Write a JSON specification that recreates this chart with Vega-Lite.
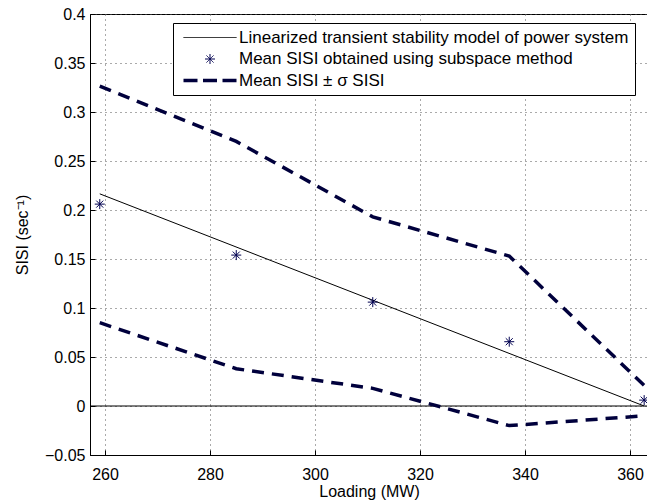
{
  "$schema": "https://vega.github.io/schema/vega-lite/v6.json",
  "width": 558,
  "height": 441,
  "autosize": {"type": "none"},
  "padding": {"left": 90, "top": 14, "right": 0, "bottom": 45},
  "background": "white",
  "config": {
    "view": {"stroke": "black", "strokeWidth": 1},
    "font": "Liberation Sans",
    "axis": {
      "domainColor": "black",
      "domainWidth": 1,
      "tickColor": "black",
      "tickSize": -5,
      "labelFont": "Liberation Sans",
      "labelFontSize": 16,
      "labelColor": "black",
      "titleFont": "Liberation Sans",
      "titleFontSize": 16,
      "titleFontWeight": "normal",
      "titleColor": "black",
      "gridColor": "#555555",
      "gridDash": [1, 4],
      "gridWidth": 1,
      "gridOpacity": 1
    }
  },
  "data": {
    "values": [
      {"series": "zero", "band": "zero", "x": 257.14, "y": 0},
      {"series": "zero", "band": "zero", "x": 363.43, "y": 0},
      {"series": "Linearized transient stability model of power system", "band": "model", "x": 259, "y": 0.2165},
      {"series": "Linearized transient stability model of power system", "band": "model", "x": 362.7, "y": 0.0},
      {"series": "Mean SISI obtained using subspace method", "band": "mean", "x": 259, "y": 0.206},
      {"series": "Mean SISI obtained using subspace method", "band": "mean", "x": 285, "y": 0.154},
      {"series": "Mean SISI obtained using subspace method", "band": "mean", "x": 311, "y": 0.106},
      {"series": "Mean SISI obtained using subspace method", "band": "mean", "x": 337, "y": 0.0656},
      {"series": "Mean SISI obtained using subspace method", "band": "mean", "x": 362.7, "y": 0.006},
      {"series": "Mean SISI ± σ SISI", "band": "upper", "x": 259, "y": 0.3265},
      {"series": "Mean SISI ± σ SISI", "band": "upper", "x": 285, "y": 0.27},
      {"series": "Mean SISI ± σ SISI", "band": "upper", "x": 311, "y": 0.193},
      {"series": "Mean SISI ± σ SISI", "band": "upper", "x": 337, "y": 0.153},
      {"series": "Mean SISI ± σ SISI", "band": "upper", "x": 362.7, "y": 0.021},
      {"series": "Mean SISI ± σ SISI", "band": "lower", "x": 259, "y": 0.085},
      {"series": "Mean SISI ± σ SISI", "band": "lower", "x": 285, "y": 0.038},
      {"series": "Mean SISI ± σ SISI", "band": "lower", "x": 311, "y": 0.018},
      {"series": "Mean SISI ± σ SISI", "band": "lower", "x": 337, "y": -0.02},
      {"series": "Mean SISI ± σ SISI", "band": "lower", "x": 362.7, "y": -0.01}
    ]
  },
  "encoding": {
    "x": {
      "field": "x",
      "type": "quantitative",
      "scale": {"domain": [257.14, 363.43], "nice": false, "zero": false},
      "axis": {
        "title": "Loading (MW)",
        "values": [260, 280, 300, 320, 340, 360],
        "labelPadding": 16,
        "titlePadding": 1,
        "grid": true
      }
    },
    "y": {
      "field": "y",
      "type": "quantitative",
      "scale": {"domain": [-0.05, 0.4], "nice": false, "zero": false},
      "axis": {
        "title": "SISI (sec⁻¹)",
        "values": [-0.05, 0, 0.05, 0.1, 0.15, 0.2, 0.25, 0.3, 0.35, 0.4],
        "format": ".2~f",
        "labelPadding": 10,
        "titlePadding": 14,
        "grid": true
      }
    },
    "color": {
      "field": "series",
      "type": "nominal",
      "scale": {
        "domain": [
          "Linearized transient stability model of power system",
          "Mean SISI obtained using subspace method",
          "Mean SISI ± σ SISI"
        ],
        "range": ["#000000", "#000050", "#00003c"]
      },
      "legend": {
        "orient": "none",
        "legendX": 83,
        "legendY": 9,
        "title": null,
        "padding": 6,
        "strokeColor": "black",
        "fillColor": "white",
        "rowPadding": 3.5,
        "symbolSize": 400,
        "labelOffset": 43,
        "labelFont": "Liberation Sans",
        "labelFontSize": 17,
        "labelColor": "black",
        "labelLimit": 0,
        "encode": {
          "symbols": {
            "update": {
              "shape": {"signal": "datum.value === 'Mean SISI obtained using subspace method' ? 'M1.75,0H2.75M2.25,-0.5V0.5M1.9,-0.35L2.6,0.35M1.9,0.35L2.6,-0.35' : 'M-0.4,0H4.9'"},
              "strokeDash": {"signal": "datum.value === 'Mean SISI ± σ SISI' ? [14, 5.5] : [1, 0]"},
              "strokeWidth": {"signal": "datum.value === 'Mean SISI ± σ SISI' ? 3.5 : 1"},
              "fill": {"value": "transparent"},
              "size": {"value": 400},
              "opacity": {"value": 1}
            }
          }
        }
      }
    }
  },
  "layer": [
    {
      "transform": [{"filter": "datum.series === 'zero'"}],
      "mark": {"type": "line", "strokeWidth": 1.2},
      "encoding": {"color": {"value": "black"}}
    },
    {
      "transform": [{"filter": "datum.band === 'model'"}],
      "mark": {"type": "line", "strokeWidth": 1}
    },
    {
      "transform": [{"filter": "datum.band === 'upper' || datum.band === 'lower'"}],
      "mark": {"type": "line", "strokeWidth": 3.5, "strokeDash": [12, 8], "strokeCap": "butt"},
      "encoding": {"detail": {"field": "band"}}
    },
    {
      "transform": [{"filter": "datum.band === 'mean'"}],
      "mark": {
        "type": "point",
        "shape": "M-0.5,0H0.5M0,-0.5V0.5M-0.35,-0.35L0.35,0.35M-0.35,0.35L0.35,-0.35",
        "size": 400,
        "filled": false,
        "strokeWidth": 1,
        "opacity": 1
      }
    }
  ]
}
